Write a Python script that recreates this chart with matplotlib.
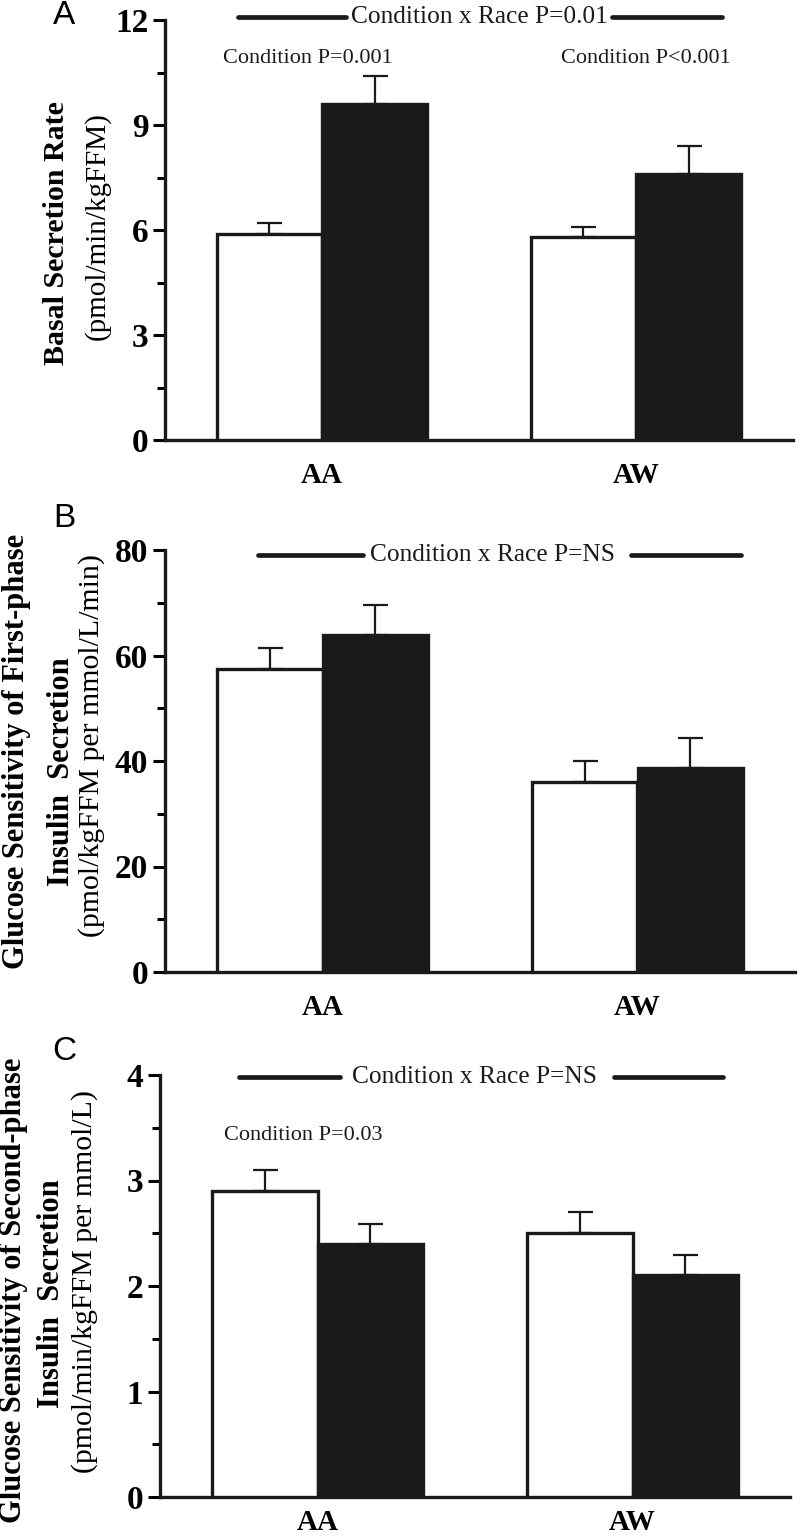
# insulin secretion by race and condition - three stacked bar panels
import matplotlib
matplotlib.use("Agg")
import matplotlib.pyplot as plt
from matplotlib.ticker import MultipleLocator
import numpy as np

plt.rcParams['font.family'] = ['Liberation Serif', 'DejaVu Serif']

# data
races = ["AA", "AW"]
# panel A - basal secretion rate
basal_white = [5.9, 5.8]
basal_white_err = [0.3, 0.3]
basal_black = [9.6, 7.6]
basal_black_err = [0.8, 0.8]
# panel B - first-phase glucose sensitivity
first_white = [57.4, 36.0]
first_white_err = [4.0, 4.0]
first_black = [63.8, 38.6]
first_black_err = [5.8, 5.8]
# panel C - second-phase glucose sensitivity
second_white = [2.9, 2.5]
second_white_err = [0.2, 0.2]
second_black = [2.4, 2.1]
second_black_err = [0.19, 0.19]

yticks_a = [0, 3, 6, 9, 12]
yticks_b = [0, 20, 40, 60, 80]
yticks_c = [0, 1, 2, 3, 4]

DARK = "#1a1a1a"
W = 0.335

fig = plt.figure(figsize=(8, 15.4), dpi=100)
ax_a = fig.add_axes([165/800, 1-440/1540, 628/800, 420/1540])
ax_b = fig.add_axes([165/800, 1-972/1540, 630/800, 422/1540])
ax_c = fig.add_axes([160/800, 1-1497/1540, 630/800, 422/1540])


def draw_panel(ax, white, white_err, black, black_err, ticks, minor, xpad=16):
    x = np.arange(len(races))
    ax.bar(x - W/2, white, W, color="white", edgecolor=DARK, linewidth=2.4, zorder=3)
    ax.bar(x + W/2, black, W, color=DARK, edgecolor=DARK, linewidth=2.4, zorder=3)
    ax.errorbar(x - W/2, white, yerr=[np.zeros(len(x)), white_err], fmt="none",
                ecolor=DARK, elinewidth=1.6, capsize=9, capthick=1.6, zorder=2)
    ax.errorbar(x + W/2, black, yerr=[np.zeros(len(x)), black_err], fmt="none",
                ecolor=DARK, elinewidth=1.6, capsize=9, capthick=1.6, zorder=2)
    ax.set_xlim(-0.5, 1.5)
    ax.set_ylim(ticks[0], ticks[-1])
    ax.set_yticks(ticks)
    ax.yaxis.set_minor_locator(MultipleLocator(minor))
    ax.set_xticks(x)
    ax.set_xticklabels(races, fontsize=21, fontweight="bold")
    ax.tick_params(axis="x", length=0, pad=xpad)
    ax.tick_params(axis="y", which="major", length=9, width=2.2, labelsize=24, pad=3)
    ax.tick_params(axis="y", which="minor", length=6, width=2.2)
    for lab in ax.get_yticklabels():
        lab.set_fontweight("bold")
    for s in ["top", "right"]:
        ax.spines[s].set_visible(False)
    for s in ["left", "bottom"]:
        ax.spines[s].set_linewidth(2.4)
        ax.spines[s].set_color(DARK)
    ax.spines["bottom"].set_bounds(-0.5, 1.5)


def race_bar(ax, y, left, right, text, xt):
    ax.plot(left, [y, y], color=DARK, lw=3.4, solid_capstyle="round", clip_on=False)
    ax.plot(right, [y, y], color=DARK, lw=3.4, solid_capstyle="round", clip_on=False)
    ax.text(xt, y, text, ha="center", va="center", fontsize=18.3, color=DARK, clip_on=False)


draw_panel(ax_a, basal_white, basal_white_err, basal_black, basal_black_err, yticks_a, 1.5)
draw_panel(ax_b, first_white, first_white_err, first_black, first_black_err, yticks_b, 10)
draw_panel(ax_c, second_white, second_white_err, second_black, second_black_err, yticks_c, 0.5,
           xpad=9)

race_bar(ax_a, 12.09, [-0.268, 0.075], [0.924, 1.274], "Condition x Race P=0.01", 0.5)
ax_a.text(-0.045, 10.89, "Condition P=0.001", ha="center", va="center", fontsize=16, color=DARK)
ax_a.text(1.03, 10.89, "Condition P<0.001", ha="center", va="center", fontsize=16, color=DARK)

race_bar(ax_b, 79.05, [-0.206, 0.13], [0.978, 1.327], "Condition x Race P=NS", 0.54)

race_bar(ax_c, 3.98, [-0.25, 0.073], [0.94, 1.286], "Condition x Race P=NS", 0.498)
ax_c.text(-0.044, 3.43, "Condition P=0.03", ha="center", va="center", fontsize=16, color=DARK)

# y axis titles
fig.text(0.071, 0.8487, "Basal Secretion Rate", rotation=90, ha="center", va="center",
         fontsize=21.5, fontweight="bold")
fig.text(0.121, 0.853, "(pmol/min/kgFFM)", rotation=90, ha="center", va="center", fontsize=21)

fig.text(0.021, 0.5123, "Glucose Sensitivity of First-phase", rotation=90, ha="center",
         va="center", fontsize=22, fontweight="bold")
fig.text(0.077, 0.499, "Insulin  Secretion", rotation=90, ha="center", va="center",
         fontsize=22, fontweight="bold")
fig.text(0.115, 0.516, "(pmol/kgFFM per mmol/L/min)", rotation=90, ha="center",
         va="center", fontsize=21.5)

fig.text(0.017, 0.1623, "Glucose Sensitivity of Second-phase", rotation=90, ha="center",
         va="center", fontsize=22, fontweight="bold")
fig.text(0.064, 0.160, "Insulin  Secretion", rotation=90, ha="center", va="center",
         fontsize=22, fontweight="bold")
fig.text(0.106, 0.168, "(pmol/min/kgFFM per mmol/L)", rotation=90, ha="center",
         va="center", fontsize=21.5)

# panel letters
for lbl, yy in [("A", 15), ("B", 518), ("C", 1052)]:
    fig.text(64/800, 1-yy/1540, lbl, ha="center", va="center", fontsize=24,
             family=["Liberation Sans", "DejaVu Sans"])

fig.savefig("out.png", dpi=100)
